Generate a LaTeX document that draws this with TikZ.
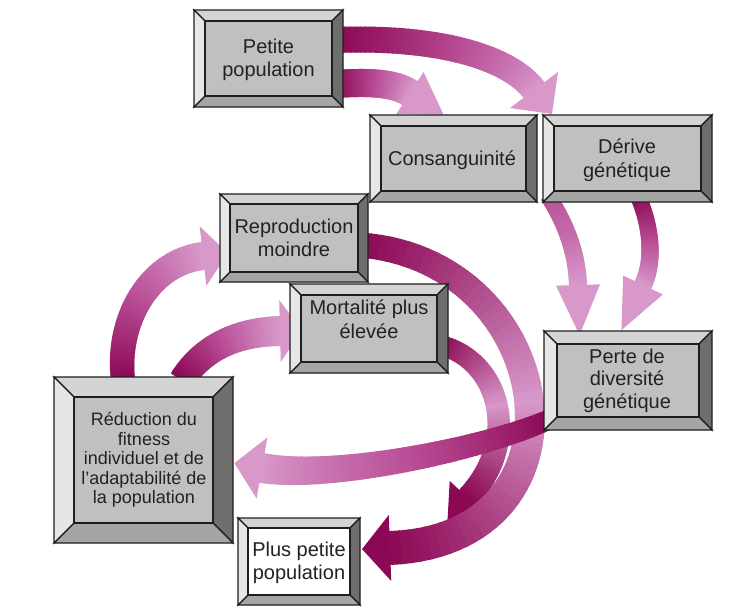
\documentclass[tikz,border=0pt]{standalone}
\usepackage{fontspec}
\setmainfont{Liberation Sans}
\usetikzlibrary{calc}
\definecolor{dk}{RGB}{140,8,84}
\definecolor{md}{RGB}{186,80,152}
\definecolor{lt}{RGB}{216,152,202}
\definecolor{face}{RGB}{192,192,192}
\definecolor{bvtop}{RGB}{212,212,212}
\definecolor{bvleft}{RGB}{230,230,230}
\definecolor{bvright}{RGB}{110,110,110}
\definecolor{bvbot}{RGB}{165,165,165}
\definecolor{edge}{RGB}{30,30,30}
\definecolor{txtc}{RGB}{34,34,34}
\colorlet{ca}{dk}\colorlet{cb}{md}\colorlet{cc}{lt}
% gradient arrow: #1..#4 bezier points, #5 w start, #6 w end, #7 head width, #8 head length
\newcommand\garrow[8]{%
  \foreach \i in {0,...,59}{%
    \pgfmathsetmacro\ta{\i/60}%
    \pgfmathsetmacro\tb{(\i+1)/60}%
    \pgfmathsetmacro\tm{(\i+0.5)/60}%
    \pgfmathsetmacro\lw{#5+(#6-#5)*\tm}%
    \ifdim\tm pt<0.5pt
      \pgfmathtruncatemacro\pc{200*\tm}%
      \def\col{cb!\pc!ca}%
    \else
      \pgfmathtruncatemacro\pc{200*(\tm-0.5)}%
      \def\col{cc!\pc!cb}%
    \fi
    \path #1 .. controls #2 and #3 .. #4 coordinate[pos=\ta] (qa) coordinate[pos=\tb] (qb);
    \draw[line width=\lw pt, draw=\col, shorten <=-0.7pt, shorten >=-0.7pt] (qa) -- (qb);
  }%
  \coordinate (he) at #4; \coordinate (hc) at #3;
  \pgfmathsetmacro\hw{#7/2}%
  \fill[cc] ($(he)!-#8pt!(hc)$) -- ($(he)!\hw pt!90:(hc)$) -- ($(he)!\hw pt!-90:(hc)$) -- cycle;
}
% bevelled box: #1 name, #2 x1, #3 y1, #4 x2, #5 y2, #6 bevel, #7 face colour
\newcommand\bbox[7]{%
  \coordinate (#1-a) at (#2,#3); \coordinate (#1-b) at (#4,#3);
  \coordinate (#1-c) at (#4,#5); \coordinate (#1-d) at (#2,#5);
  \coordinate (#1-ia) at (#2+#6,#3+#6); \coordinate (#1-ib) at (#4-#6,#3+#6);
  \coordinate (#1-ic) at (#4-#6,#5-#6); \coordinate (#1-id) at (#2+#6,#5-#6);
  \filldraw[bevel, fill=bvtop] (#1-a) -- (#1-b) -- (#1-ib) -- (#1-ia) -- cycle;
  \filldraw[bevel, fill=bvright] (#1-b) -- (#1-c) -- (#1-ic) -- (#1-ib) -- cycle;
  \filldraw[bevel, fill=bvbot] (#1-c) -- (#1-d) -- (#1-id) -- (#1-ic) -- cycle;
  \filldraw[bevel, fill=bvleft] (#1-d) -- (#1-a) -- (#1-ia) -- (#1-id) -- cycle;
  \filldraw[bevel, fill=#7] (#1-ia) -- (#1-ib) -- (#1-ic) -- (#1-id) -- cycle;
}
\begin{document}
\begin{tikzpicture}[x=1pt,y=-1pt,
  bevel/.style={draw=edge, line width=1.3pt, line join=miter},
  txt/.style={align=center, inner sep=0pt, text=txtc, font=\fontsize{20}{23.5}\selectfont}]
\useasboundingbox (0,0) rectangle (737,611);
\fill[white] (0,0) rectangle (737,611);
% arrows behind
\colorlet{ca}{md}\colorlet{cb}{md!60!lt}\colorlet{cc}{lt}
\garrow{(548,196)}{(565,222)}{(577,252)}{(578,285)}{16}{18}{44}{50}
\colorlet{ca}{dk}\colorlet{cb}{md}\colorlet{cc}{lt}
\garrow{(638,196)}{(652,228)}{(654,262)}{(643,285)}{16}{18}{44}{50}
\garrow{(335,40)}{(440,36)}{(510,58)}{(534,90)}{26}{26}{60}{30}
\garrow{(335,84)}{(365,82)}{(393,82)}{(410,93)}{28}{28}{50}{40}
\garrow{(123,380)}{(116,320)}{(150,262)}{(203,256)}{24}{28}{60}{25}
\garrow{(182,380)}{(205,345)}{(240,332)}{(280,331)}{26}{30}{62}{22}
\colorlet{ca}{dk}\colorlet{cb}{lt}\colorlet{cc}{dk}
\garrow{(440,345)}{(500,360)}{(522,440)}{(468,498)}{20}{24}{50}{30}
\garrow{(360,245)}{(560,260)}{(600,540)}{(390,548)}{25}{34}{66}{28}
\colorlet{ca}{dk}\colorlet{cb}{md}\colorlet{cc}{lt}
\garrow{(548,420)}{(480,450)}{(330,480)}{(262,468)}{20}{30}{62}{28}
% boxes
\bbox{b1}{194}{10}{343}{107}{11}{face}
\node[txt] (petite) at (268.5,60) {Petite\\population};
\bbox{b2}{370}{115}{537}{202}{11}{face}
\node[txt] (consang) at (452,160) {Consanguinité};
\bbox{b3}{543}{115}{712}{202}{11}{face}
\node[txt] (derive) at (627,160) {Dérive\\génétique};
\bbox{b4}{220}{194}{368}{282}{10}{face}
\node[txt] (repro) at (294,238) {Reproduction\\moindre};
\bbox{b5}{290}{284}{448}{373}{11}{face}
\node[txt] (mort) at (369,319) {Mortalité plus\\élevée};
\bbox{b6}{544}{331}{712}{430}{13}{face}
\node[txt, font=\fontsize{20}{22.5}\selectfont] (perte) at (627,380.5) {Perte de\\diversité\\génétique};
\bbox{b7}{54}{377}{233}{543}{20}{face}
\node[txt, font=\fontsize{18}{19.5}\selectfont] (reduc) at (144,460) {Réduction du\\fitness\\individuel et de\\l’adaptabilité de\\la population};
\bbox{b8}{238}{518}{360}{605}{10}{white}
\node[txt] (plus) at (299,563) {Plus petite\\population};
\end{tikzpicture}
\end{document}
